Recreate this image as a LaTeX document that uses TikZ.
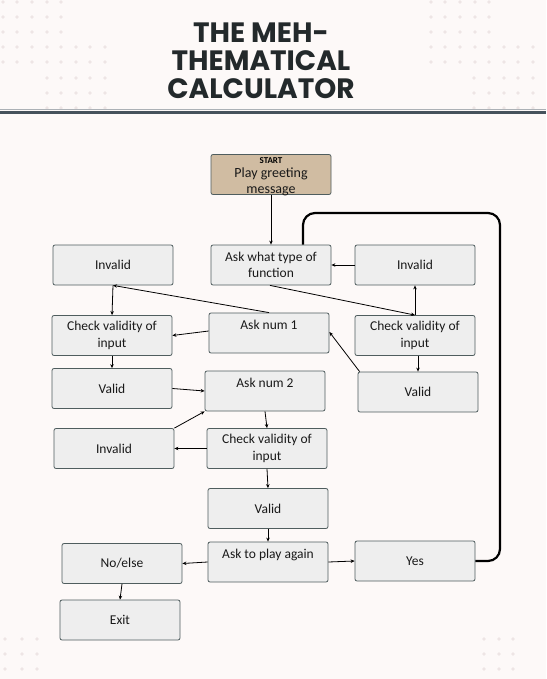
\documentclass[tikz,border=0pt]{standalone}
\usepackage{fontspec}
\setmainfont{Carlito}
\newfontfamily\titlefont{Poppins}
\usetikzlibrary{arrows.meta}
\definecolor{bg}{HTML}{FDF9F8}
\definecolor{boxfill}{HTML}{EEEEEE}
\definecolor{boxline}{HTML}{4F5D5E}
\definecolor{startfill}{HTML}{D0BCA2}
\definecolor{titlecol}{HTML}{23292B}
\definecolor{rulecol}{HTML}{46525C}
\definecolor{dotcol}{HTML}{EEE5E5}
\tikzset{
  box/.style={draw=boxline, fill=boxfill, line width=0.8pt, rounded corners=2pt,
    minimum width=120pt, minimum height=40pt, inner sep=2pt, align=center,
    font=\fontsize{13.5}{16.5}\selectfont, text=black!90},
  startbox/.style={box, fill=startfill},
  boxtext/.style={align=center, inner sep=0pt, font=\fontsize{14}{16}\selectfont, text=black!90},
  conn/.style={line width=0.8pt, -{Stealth[length=4pt,width=3.5pt]}},
  loopline/.style={line width=2.2pt, rounded corners=12pt},
  dotmark/.style={fill=dotcol, draw=none}
}
\begin{document}
\begin{tikzpicture}[x=1pt,y=-1pt]
\fill[bg] (0,0) rectangle (546,679);
\useasboundingbox (0,0) rectangle (546,679);
% decorative dots
\foreach \y in {2,17,32}{\foreach \x in {3,17,32,47,61}{\fill[dotmark] (\x,\y) circle (1.8);}}
\foreach \y in {47,62}{\foreach \x in {3,17,32,47,61,76,90,105}{\fill[dotmark] (\x,\y) circle (1.8);}}
\foreach \y in {78,93,108}{\foreach \x in {47,61,76,90,105}{\fill[dotmark] (\x,\y) circle (1.8);}}
\foreach \y in {2,17,32}{\foreach \x in {431,445,460,475,489}{\fill[dotmark] (\x,\y) circle (1.8);}}
\foreach \y in {47,62}{\foreach \x in {431,445,460,475,489,504,518,533}{\fill[dotmark] (\x,\y) circle (1.8);}}
\foreach \y in {78,93,108}{\foreach \x in {474,489,504,518,533}{\fill[dotmark] (\x,\y) circle (1.8);}}
\foreach \y in {639,654,669}{\foreach \x in {5,22,37}{\fill[dotmark] (\x,\y) circle (1.8);}}
\foreach \y in {639,654,669}{\foreach \x in {484,499,513}{\fill[dotmark] (\x,\y) circle (1.8);}}
% title
\node[align=center, text=titlecol, font=\titlefont\bfseries\fontsize{28}{28}\selectfont] (title) at (261,61) {THE MEH-\\THEMATICAL\\CALCULATOR};
\draw[line width=1pt, draw=rulecol!45] (0,110) -- (546,110);
\draw[line width=3pt, draw=rulecol] (0,112.5) -- (546,112.5);
% nodes
\node[startbox] (start) at (271,174.5) {};
\node[font=\bfseries\fontsize{9}{9}\selectfont, inner sep=0pt] (startlbl) at (271,161) {START};
\node[boxtext] (starttxt) at (271,181.5) {Play greeting\\message};
\node[box] (askfn) at (271,265) {Ask what type of\\function};
\node[box] (inv1) at (113,265) {Invalid};
\node[box] (inv2) at (415,265) {Invalid};
\node[box] (chk1) at (112,335.5) {Check validity of\\input};
\node[box] (num1) at (269,333) {Ask num 1\\\mbox{}};
\node[box] (chk2) at (415,335.5) {Check validity of\\input};
\node[box] (val1) at (112,388.5) {Valid};
\node[box] (num2) at (265,391) {Ask num 2\\\mbox{}};
\node[box] (val2) at (418,392) {Valid};
\node[box] (inv3) at (114,448.5) {Invalid};
\node[box] (chk3) at (267,448.5) {Check validity of\\input};
\node[box] (val3) at (268,508.5) {Valid};
\node[box] (again) at (268,562) {Ask to play again\\\mbox{}};
\node[box] (noelse) at (122,563.5) {No/else};
\node[box] (yes) at (415,561) {Yes};
\node[box] (exit) at (120,620) {Exit};
% connectors
\draw[conn] (start.south) -- (askfn.north);
\draw[loopline] (yes.east) -| (500,213) -| ([xshift=32pt]askfn.north);
\draw[conn] ([xshift=-1pt]askfn.south) -- (chk2.north);
\draw[conn] (chk2.north) -- (inv2.south);
\draw[conn] (inv2.west) -- (askfn.east);
\draw[conn] ([xshift=3pt]chk2.south) -- (val2.north);
\draw[conn] ([xshift=2pt]val2.north west) -- ([yshift=1pt]num1.east);
\draw[conn] ([yshift=2pt]num1.west) -- (chk1.east);
\draw[conn] (num1.north) -- (inv1.south);
\draw[conn] (inv1.south) -- (chk1.north);
\draw[conn] (chk1.south) -- (val1.north);
\draw[conn] (val1.east) -- (num2.west);
\draw[conn] (num2.south) -- (chk3.north);
\draw[conn] (chk3.west) -- (inv3.east);
\draw[conn] (inv3.north east) -- (num2.south west);
\draw[conn] (chk3.south) -- (val3.north);
\draw[conn] (val3.south) -- (again.north);
\draw[conn] (again.west) -- (noelse.east);
\draw[conn] (again.east) -- (yes.west);
\draw[conn] (noelse.south) -- (exit.north);
\end{tikzpicture}
\end{document}
